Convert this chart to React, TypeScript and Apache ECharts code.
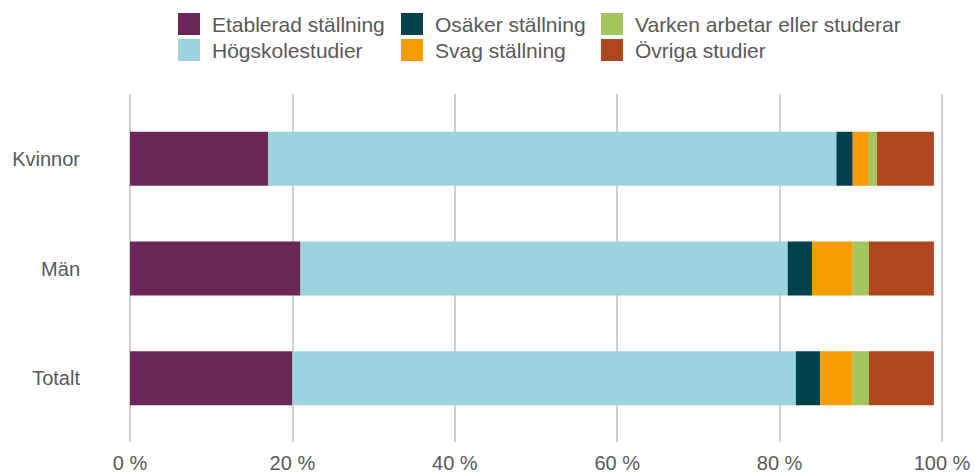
import React, { useEffect, useRef } from "react";
import * as echarts from "echarts";

const categories = ["Kvinnor", "Män", "Totalt"];
const seriesNames = [
  "Etablerad ställning",
  "Högskolestudier",
  "Osäker ställning",
  "Svag ställning",
  "Varken arbetar eller studerar",
  "Övriga studier",
];
const etablerad = [17, 21, 20];
const hogskole = [70, 60, 62];
const osaker = [2, 3, 3];
const svag = [2, 5, 4];
const varken = [1, 2, 2];
const ovriga = [7, 8, 8];
const seriesValues = [etablerad, hogskole, osaker, svag, varken, ovriga];
const colors = ["#6A2758", "#9BD3DE", "#00414C", "#F59C00", "#A3C75E", "#B0461D"];
const xTicks = [0, 20, 40, 60, 80, 100];

const FONT = "Liberation Sans, Arial, sans-serif";
const TEXT = "#595959";

export default function App() {
  const ref = useRef<HTMLDivElement>(null);
  useEffect(() => {
    document.body.style.margin = "0";
    document.body.style.overflow = "hidden";
    if (!ref.current) return;
    const chart = echarts.init(ref.current, null, { renderer: "svg" });
    const legendCols = [
      { left: 178, names: [seriesNames[0], seriesNames[1]] },
      { left: 401, names: [seriesNames[2], seriesNames[3]] },
      { left: 601, names: [seriesNames[4], seriesNames[5]] },
    ];
    chart.setOption({
      animation: false,
      color: colors,
      textStyle: { fontFamily: FONT },
      legend: legendCols.map((c) => ({
        data: c.names,
        orient: "vertical",
        left: c.left,
        top: 13,
        padding: 0,
        itemWidth: 22,
        itemHeight: 22,
        itemGap: 4,
        icon: "rect",
        selectedMode: false,
        textStyle: {
          fontSize: 21,
          color: TEXT,
          fontFamily: FONT,
          padding: [0, 0, 0, 7],
        },
      })),
      grid: [
        { left: 130, right: 33, top: 104, height: 329 },
        { left: 130, right: 33, top: 94, height: 349 },
      ],
      xAxis: [
        { type: "value", gridIndex: 0, min: 0, max: 100, interval: 20, show: false },
        {
          type: "value",
          gridIndex: 1,
          min: 0,
          max: xTicks[xTicks.length - 1],
          interval: 20,
          axisLine: { show: false },
          axisTick: { show: false },
          splitLine: { show: true, lineStyle: { color: "#d0d0d0", width: 2 } },
          axisLabel: {
            formatter: "{value} %",
            fontSize: 20,
            color: TEXT,
            fontFamily: FONT,
            margin: 11,
          },
        },
      ],
      yAxis: [
        {
          type: "category",
          gridIndex: 0,
          data: categories,
          inverse: true,
          axisLine: { show: false },
          axisTick: { show: false },
          splitLine: { show: false },
          axisLabel: { fontSize: 20, color: TEXT, fontFamily: FONT, margin: 50 },
        },
        { type: "category", gridIndex: 1, data: categories, show: false },
      ],
      series: seriesNames.map((name, i) => ({
        name,
        type: "bar",
        stack: "total",
        xAxisIndex: 0,
        yAxisIndex: 0,
        barWidth: 54,
        data: seriesValues[i],
        itemStyle: { color: colors[i] },
      })),
    });
    return () => chart.dispose();
  }, []);
  return <div ref={ref} style={{ width: 975, height: 473 }} />;
}
